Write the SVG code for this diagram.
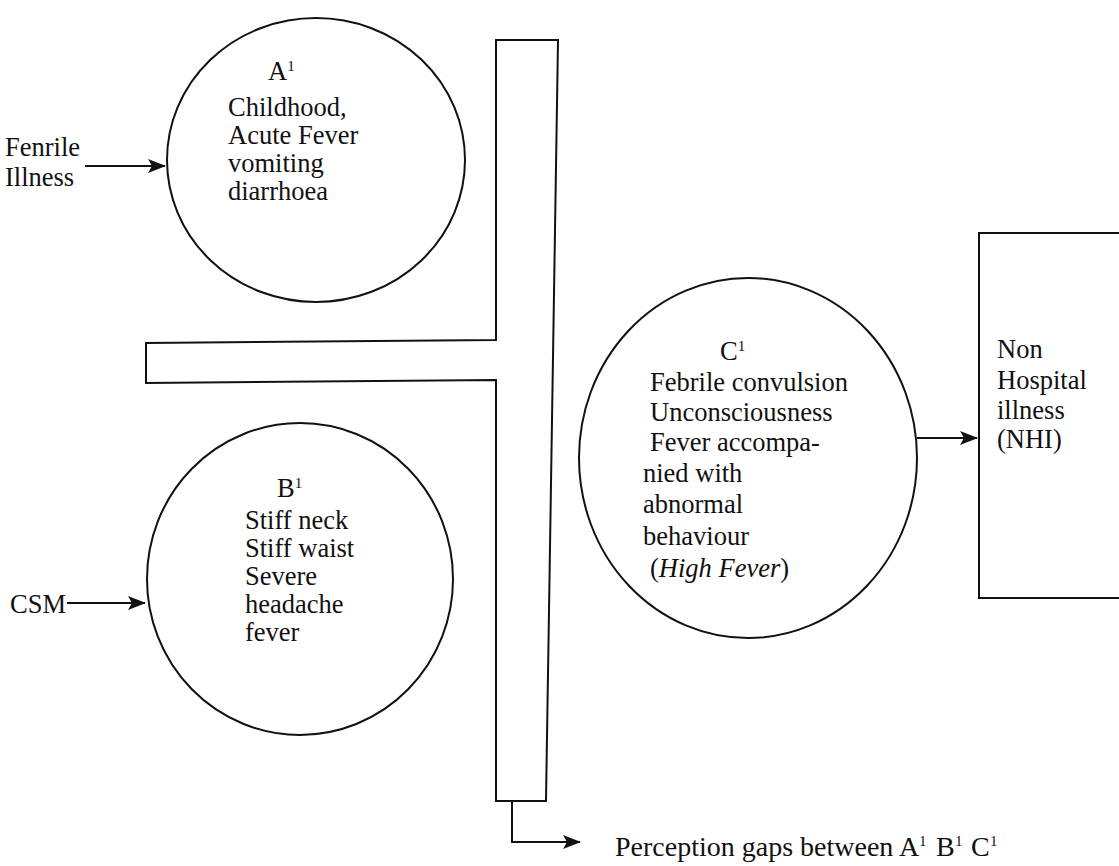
<svg xmlns="http://www.w3.org/2000/svg" width="1119" height="866" viewBox="0 0 1119 866">
<style>
.t{font-family:"Liberation Serif","Times New Roman",serif;font-size:26.5px;fill:#111}
.p{font-size:28px}
.sup{font-size:15px}
.s{fill:none;stroke:#111;stroke-width:2}
</style>
<defs>
<marker id="ah" markerUnits="userSpaceOnUse" markerWidth="18" markerHeight="14" refX="17" refY="7" orient="auto">
<path d="M0,0 L18,7 L0,14 L4,7 Z" fill="#111"/>
</marker>
</defs>
<rect width="1119" height="866" fill="#fff"/>
<g id="connectors">
<path class="s" d="M85,166 L165,166" marker-end="url(#ah)"/>
<path class="s" d="M67,603 L145,603" marker-end="url(#ah)"/>
<path class="s" d="M917,438 L977,438" marker-end="url(#ah)"/>
<path class="s" d="M512,801 L512,842 L580,842" marker-end="url(#ah)"/>
</g>
<g id="tshape">
<path class="s" d="M496,40 L558,40 L546,801 L496,801 L496,380 L146,383 L146,343 L496,340 Z"/>
</g>
<g id="nodeA">
<ellipse class="s" cx="316" cy="160" rx="149" ry="142"/>
<text class="t" x="268" y="80">A<tspan class="sup" dy="-9">1</tspan></text>
<text class="t" x="228" y="116">Childhood,</text>
<text class="t" x="228" y="144">Acute Fever</text>
<text class="t" x="228" y="172">vomiting</text>
<text class="t" x="228" y="200">diarrhoea</text>
</g>
<g id="fenrile">
<text class="t" x="5" y="156">Fenrile</text>
<text class="t" x="5" y="186">Illness</text>
</g>
<g id="nodeB">
<ellipse class="s" cx="300" cy="579" rx="153" ry="156"/>
<text class="t" x="277" y="497">B<tspan class="sup" dy="-9">1</tspan></text>
<text class="t" x="245" y="529">Stiff neck</text>
<text class="t" x="245" y="557">Stiff waist</text>
<text class="t" x="245" y="585">Severe</text>
<text class="t" x="245" y="613">headache</text>
<text class="t" x="245" y="641">fever</text>
</g>
<g id="csm">
<text class="t" x="10" y="613">CSM</text>
</g>
<g id="nodeC">
<ellipse class="s" cx="748" cy="458" rx="169" ry="180"/>
<text class="t" x="720" y="360">C<tspan class="sup" dy="-9">1</tspan></text>
<text class="t" x="650" y="391">Febrile convulsion</text>
<text class="t" x="650" y="421">Unconsciousness</text>
<text class="t" x="650" y="451">Fever accompa-</text>
<text class="t" x="643" y="482">nied with</text>
<text class="t" x="643" y="513">abnormal</text>
<text class="t" x="643" y="545">behaviour</text>
<text class="t" x="650" y="577">(<tspan font-style="italic">High Fever</tspan>)</text>
</g>
<g id="nodeNHI">
<path class="s" d="M1119,233 L979,233 L979,598 L1119,598"/>
<text class="t" x="997" y="358">Non</text>
<text class="t" x="997" y="389">Hospital</text>
<text class="t" x="997" y="419">illness</text>
<text class="t" x="997" y="448">(NHI)</text>
</g>
<g id="perception">
<text class="t p" x="615" y="856">Perception gaps between <tspan x="899">A</tspan><tspan class="sup" x="919" y="846">1</tspan><tspan x="936" y="856">B</tspan><tspan class="sup" x="955" y="846">1</tspan><tspan x="971" y="856">C</tspan><tspan class="sup" x="990" y="846">1</tspan></text>
</g>
</svg>
